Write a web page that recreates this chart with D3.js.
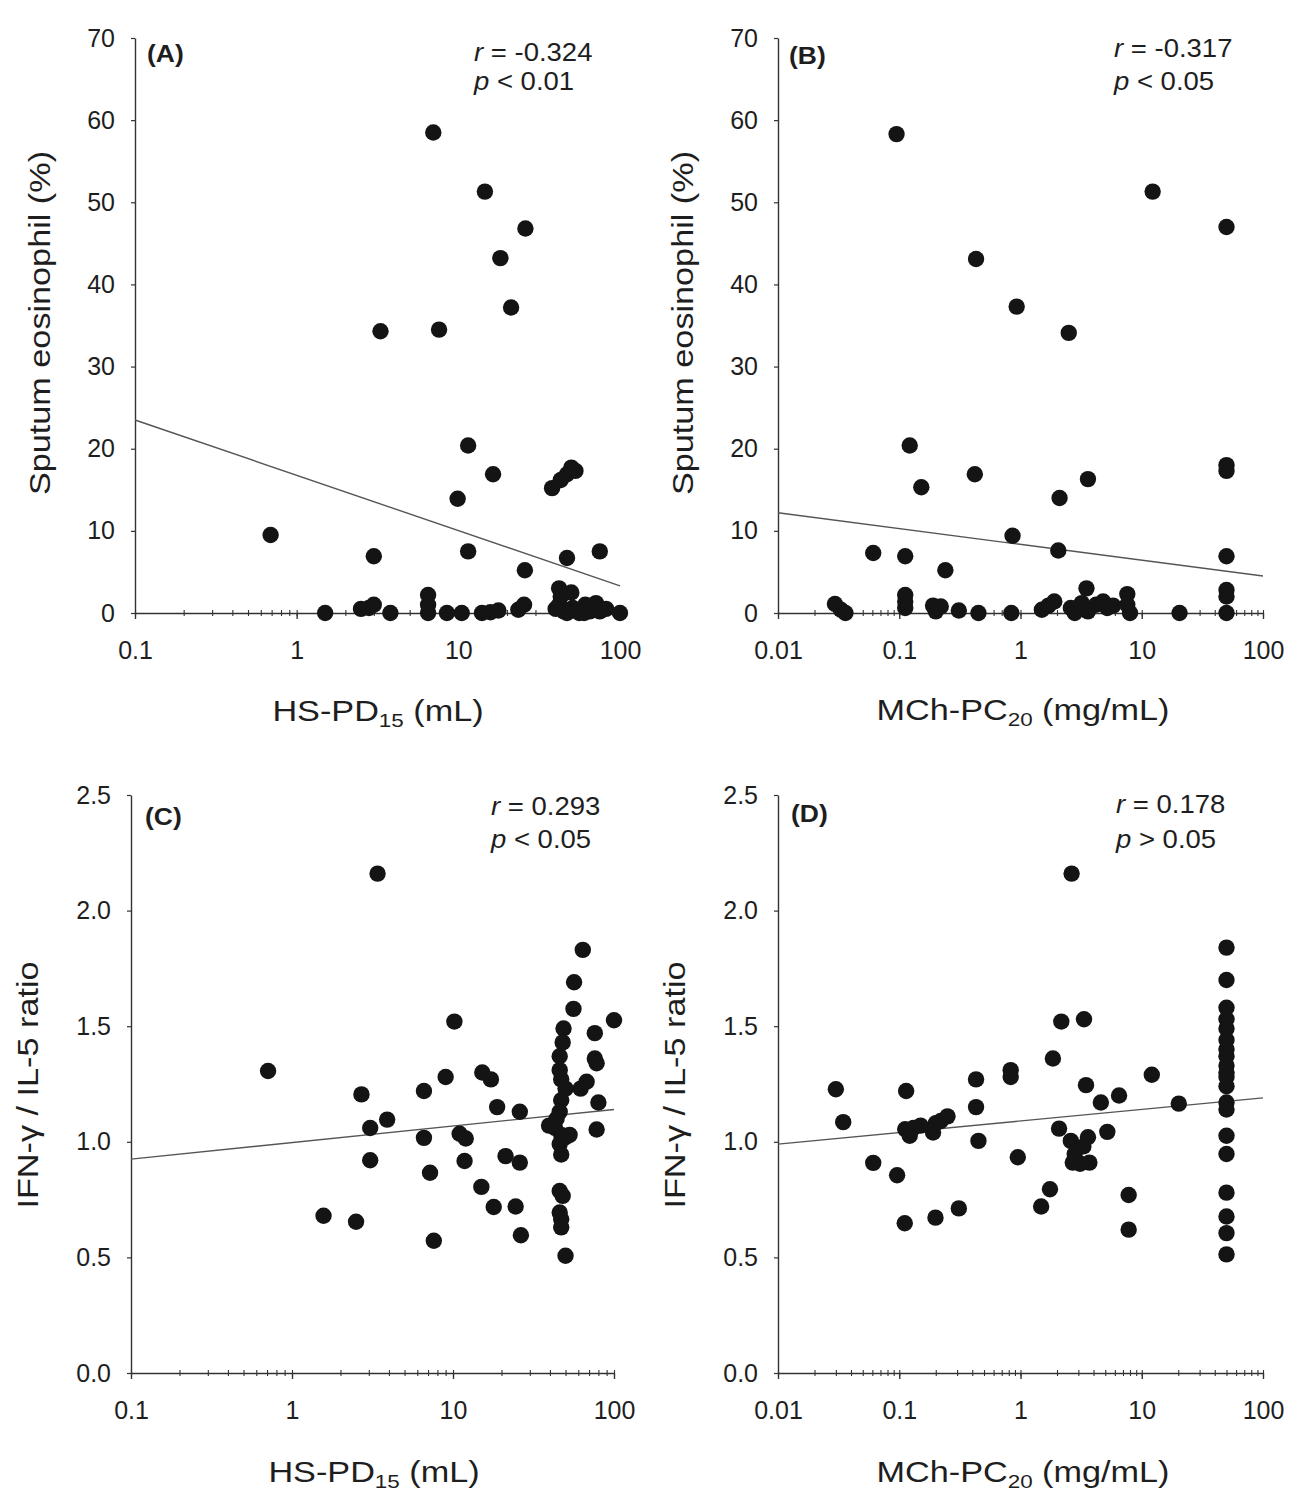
<!DOCTYPE html>
<html>
<head>
<meta charset="utf-8">
<script src="https://cdnjs.cloudflare.com/ajax/libs/d3/7.8.5/d3.min.js"></script>
<style>
  body { margin: 0; background: #fff; }
  text { font-family: "Liberation Sans", Arial, Helvetica, sans-serif; fill: #1e1e1e; }
  .axis path, .axis line { stroke: #333; }
</style>
</head>
<body>
<div id="chart"></div>
<script>
// tick values
var hsTicks = [0.1, 1, 10, 100];
var mchTicks = [0.01, 0.1, 1, 10, 100];
var eosTicks = [0, 10, 20, 30, 40, 50, 60, 70];
var ratioTicks = [0, 0.5, 1.0, 1.5, 2.0, 2.5];

// (A) HS-PD15 (mL) vs sputum eosinophil (%)
var pointsA = [
  [7.0,58.5],[14.6,51.3],[26,46.8],[18.2,43.2],[21.2,37.2],[3.3,34.3],[7.6,34.5],
  [11.5,20.4],[16.4,16.9],[9.9,13.9],[38,15.2],[43,16.2],[47,16.9],[50,17.7],[53,17.3],
  [0.69,9.5],[3.0,6.9],[11.5,7.5],[25.8,5.2],[47,6.7],[75,7.5],
  [1.5,0],[2.5,0.5],[2.8,0.6],[3.0,1.0],[3.8,0],[6.5,2.2],[6.5,1.0],[6.5,0],[8.5,0],[10.5,0],
  [14,0],[15.8,0.1],[17.7,0.3],[23.5,0.4],[25.5,1.0],
  [42,3.0],[43,2.0],[42,1.0],[45,0.2],[47,0],[51,0.6],[56,0],[61,1.0],[65,0.2],[71,1.2],
  [75,0.2],[82,0.5],[100,0],[40,0.5],[50,2.5],[55,0.3],[60,0]
];
var fitA = [[0.1, 23.5], [100, 3.3]];
var statsA = ["-0.324", "<", "0.01"];

// (B) MCh-PC20 (mg/mL) vs sputum eosinophil (%)
var pointsB = [
  [0.095,58.3],[12.3,51.3],[50,47.0],[0.43,43.1],[0.93,37.3],[2.5,34.1],
  [0.122,20.4],[0.42,16.9],[0.152,15.3],[3.6,16.3],[2.1,14.0],[50,18.0],[50,17.3],
  [0.86,9.4],[0.061,7.3],[0.112,6.9],[2.05,7.6],[0.24,5.2],[50,6.9],[50,2.8],[50,2.0],[50,0],
  [0.0295,1.1],[0.033,0.4],[0.036,0],[0.112,2.2],[0.112,1.4],[0.112,0.6],[0.2,0.2],[0.19,0.9],
  [0.22,0.8],[0.31,0.3],[0.45,0],[0.84,0],
  [1.5,0.4],[1.7,0.9],[1.9,1.4],[2.6,0.6],[2.8,0],[3.2,1.2],[3.5,3.0],[3.6,0.2],[4.2,1.0],
  [4.8,1.4],[5.2,0.6],[5.8,0.9],[7.6,2.3],[7.6,1.0],[8.0,0],[20.5,0]
];
var fitB = [[0.01, 12.2], [100, 4.5]];
var statsB = ["-0.317", "<", "0.05"];

// (C) HS-PD15 (mL) vs IFN-g / IL-5 ratio
var pointsC = [
  [3.4,2.16],[0.71,1.306],[64,1.83],[56.5,1.69],[56,1.575],[100,1.526],[10.2,1.52],[76,1.47],
  [48.6,1.49],[76,1.36],[78,1.34],
  [9.0,1.28],[15.2,1.30],[17.2,1.27],[6.6,1.22],[2.7,1.205],[67.6,1.26],[62,1.23],[18.8,1.15],
  [26,1.13],[80,1.17],
  [3.9,1.096],[3.06,1.06],[3.06,0.92],[6.6,1.017],[7.2,0.866],[7.6,0.572],[11,1.035],[12,1.014],
  [11.8,0.917],[15,0.805],[17.9,0.718],[21.2,0.938],[26,0.91],[24.5,0.72],[26.4,0.596],[78,1.053],
  [1.57,0.68],[2.5,0.654],
  [39.5,1.07],[43,1.06],[47,1.03],[50,1.02],[53,1.03],[46,0.99],[47,0.945],[46,0.787],[48,0.766],
  [46,0.694],[47,0.665],[47,0.63],[50,0.507],
  [48,1.43],[46,1.37],[46,1.31],[47,1.27],[50,1.23],[47,1.18],[46,1.13],[44,1.10]
];
var fitC = [[0.1, 0.925], [100, 1.14]];
var statsC = ["0.293", "<", "0.05"];

// (D) MCh-PC20 (mg/mL) vs IFN-g / IL-5 ratio
var pointsD = [
  [2.64,2.16],[50,1.84],[50,1.70],[50,1.58],[50,1.53],[50,1.49],[50,1.44],[50,1.40],[50,1.37],
  [50,1.33],[50,1.30],[50,1.28],[50,1.24],[50,1.17],[50,1.14],[50,1.026],[50,0.947],[50,0.78],
  [50,0.677],[50,0.605],[50,0.513],
  [2.17,1.52],[3.34,1.53],[1.85,1.36],[0.83,1.31],[0.83,1.28],[0.43,1.27],[0.43,1.15],[3.47,1.245],
  [12.1,1.29],[6.5,1.20],[4.6,1.17],[20.2,1.165],
  [0.030,1.227],[0.114,1.22],[0.0345,1.085],[0.061,0.909],[0.096,0.855],[0.111,0.648],[0.199,0.672],
  [0.31,0.712],
  [0.112,1.054],[0.122,1.026],[0.131,1.06],[0.15,1.07],[0.19,1.04],[0.2,1.08],[0.22,1.09],[0.25,1.11],
  [0.45,1.004],[0.95,0.933],[1.48,0.72],[1.75,0.795],
  [2.08,1.057],[2.6,1.004],[2.8,0.947],[3.1,0.905],[3.3,0.98],[3.6,1.02],[3.7,0.91],[2.7,0.91],
  [5.2,1.043],[7.8,0.77],[7.8,0.62]
];
var fitD = [[0.01, 0.99], [100, 1.19]];
var statsD = ["0.178", ">", "0.05"];

var svg = d3.select("#chart").append("svg")
    .attr("width", 1290)
    .attr("height", 1497);

var panels = [
  {tag: "(A)", pts: pointsA, fit: fitA, stats: statsA, xTicks: hsTicks, yTicks: eosTicks, yFmt: d3.format("d"),
   left: 135, right: 620, bottom: 613, top: 38, xSub: "HS-PD", sub: "15", unit: " (mL)",
   yTitle: "Sputum eosinophil (%)", lab: [147, 62], st: [474, 61, 90], yt: [50, 323], xt: [378, 721]},
  {tag: "(B)", pts: pointsB, fit: fitB, stats: statsB, xTicks: mchTicks, yTicks: eosTicks, yFmt: d3.format("d"),
   left: 778, right: 1263, bottom: 613, top: 38, xSub: "MCh-PC", sub: "20", unit: " (mg/mL)",
   yTitle: "Sputum eosinophil (%)", lab: [789, 64], st: [1114, 57, 90], yt: [693, 323], xt: [1023, 720]},
  {tag: "(C)", pts: pointsC, fit: fitC, stats: statsC, xTicks: hsTicks, yTicks: ratioTicks, yFmt: d3.format(".1f"),
   left: 131, right: 614, bottom: 1373, top: 795, xSub: "HS-PD", sub: "15", unit: " (mL)",
   yTitle: "IFN-\u03b3 / IL-5 ratio", lab: [145, 825], st: [491, 815, 848], yt: [38, 1085], xt: [374, 1482]},
  {tag: "(D)", pts: pointsD, fit: fitD, stats: statsD, xTicks: mchTicks, yTicks: ratioTicks, yFmt: d3.format(".1f"),
   left: 778, right: 1263, bottom: 1373, top: 795, xSub: "MCh-PC", sub: "20", unit: " (mg/mL)",
   yTitle: "IFN-\u03b3 / IL-5 ratio", lab: [791, 822], st: [1116, 813, 848], yt: [685, 1085], xt: [1023, 1482]}
];

panels.forEach(drawPanel);

function drawPanel(p) {
  var xDom = [p.xTicks[0], p.xTicks[p.xTicks.length - 1]];
  var yDom = [p.yTicks[0], p.yTicks[p.yTicks.length - 1]];
  var x = d3.scaleLog().domain(xDom).range([p.left, p.right]);
  var y = d3.scaleLinear().domain(yDom).range([p.bottom, p.top]);

  var g = svg.append("g");

  // minor log ticks on the x axis
  var minor = g.append("g")
      .attr("class", "axis")
      .attr("transform", "translate(0," + p.bottom + ")")
      .call(d3.axisBottom(x).tickValues(x.ticks()).tickSize(3).tickSizeOuter(0).tickFormat(""));
  minor.select(".domain").remove();
  minor.selectAll(".tick line").attr("y1", -3).attr("stroke-width", 1.1);

  var xAxis = g.append("g")
      .attr("class", "axis")
      .attr("transform", "translate(0," + p.bottom + ")")
      .call(d3.axisBottom(x).tickValues(p.xTicks).tickSize(6).tickSizeOuter(0).tickPadding(22)
        .tickFormat(function(d) { return String(d); }));
  xAxis.select(".domain").attr("stroke-width", 1.4);
  xAxis.selectAll(".tick line").attr("stroke-width", 1.4);
  xAxis.selectAll("text").attr("font-size", 25).attr("font-family", null).attr("fill", "#262626");

  var yAxis = g.append("g")
      .attr("class", "axis")
      .attr("transform", "translate(" + p.left + ",0)")
      .call(d3.axisLeft(y).tickValues(p.yTicks).tickSize(4).tickSizeOuter(0).tickPadding(16).tickFormat(p.yFmt));
  yAxis.select(".domain").attr("stroke-width", 1.4);
  yAxis.selectAll(".tick line").attr("stroke-width", 1.2);
  yAxis.selectAll("text").attr("font-size", 25).attr("font-family", null).attr("fill", "#262626");

  // regression line
  var line = d3.line()
      .x(function(d) { return x(d[0]); })
      .y(function(d) { return y(d[1]); });
  g.append("path")
      .datum(p.fit)
      .attr("d", line)
      .attr("fill", "none")
      .attr("stroke", "#555")
      .attr("stroke-width", 1.4);

  // dots
  g.selectAll("circle")
      .data(p.pts)
      .enter().append("circle")
      .attr("cx", function(d) { return x(d[0]); })
      .attr("cy", function(d) { return y(d[1]); })
      .attr("r", 8.2)
      .style("fill", "#141414");

  // panel tag
  g.append("text")
      .attr("transform", "translate(" + p.lab[0] + "," + p.lab[1] + ") scale(1.15,1)")
      .attr("font-size", 23)
      .attr("font-weight", "bold")
      .text(p.tag);

  // r / p
  var r = g.append("text")
      .attr("transform", "translate(" + p.st[0] + "," + p.st[1] + ") scale(1.1,1)")
      .attr("font-size", 25);
  r.append("tspan").attr("font-style", "italic").text("r");
  r.append("tspan").text(" = " + p.stats[0]);
  var pv = g.append("text")
      .attr("transform", "translate(" + p.st[0] + "," + p.st[2] + ") scale(1.1,1)")
      .attr("font-size", 25);
  pv.append("tspan").attr("font-style", "italic").text("p");
  pv.append("tspan").text(" " + p.stats[1] + " " + p.stats[2]);

  // axis titles
  g.append("text")
      .attr("transform", "translate(" + p.yt[0] + "," + p.yt[1] + ") rotate(-90) scale(1.18,1)")
      .attr("text-anchor", "middle")
      .attr("font-size", 29)
      .text(p.yTitle);

  var xt = g.append("text")
      .attr("transform", "translate(" + p.xt[0] + "," + p.xt[1] + ") scale(1.18,1)")
      .attr("text-anchor", "middle")
      .attr("font-size", 29);
  xt.append("tspan").text(p.xSub);
  xt.append("tspan").attr("font-size", 19).attr("dy", 6).text(p.sub);
  xt.append("tspan").attr("dy", -6).text(p.unit);
}
</script>
</body>
</html>
